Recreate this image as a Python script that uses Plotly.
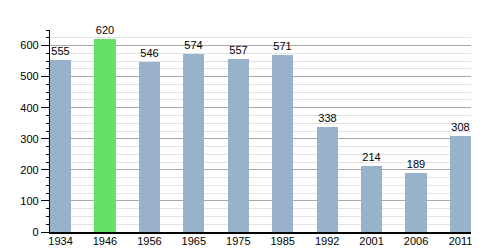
import plotly.graph_objects as go

years = ["1934", "1946", "1956", "1965", "1975", "1985", "1992", "2001", "2006", "2011"]
population = [555, 620, 546, 574, 557, 571, 338, 214, 189, 308]
highlight_year = "1946"

blue = "#99b2cc"
green = "#66e066"
colors = [green if y == highlight_year else blue for y in years]

fig = go.Figure(go.Bar(
    x=list(range(len(years))),
    y=population,
    marker=dict(color=colors, line=dict(width=0)),
    width=0.475,
    text=[str(v) for v in population],
    textposition="outside",
    textfont=dict(family="Liberation Sans, Arial, sans-serif", size=11, color="#000"),
    cliponaxis=False,
))

fig.update_layout(
    width=500, height=250,
    margin=dict(l=50, r=29, t=30, b=18),
    paper_bgcolor="white", plot_bgcolor="white",
    showlegend=False,
    font=dict(family="Liberation Sans, Arial, sans-serif", size=11, color="#000"),
    bargap=0,
)
fig.update_xaxes(
    range=[-0.237, len(years) - 1 + 0.237],
    tickmode="array", tickvals=list(range(len(years))), ticktext=years,
    showgrid=False, zeroline=False,
    showline=True, linecolor="black", linewidth=1.5,
    ticks="", ticklen=0, automargin=False,
    ticklabelstandoff=-2,
)
fig.update_yaxes(
    range=[0, 650], dtick=100, tick0=0,
    showgrid=True, gridcolor="#a8a8a8", gridwidth=1,
    zeroline=False,
    showline=True, linecolor="black", linewidth=1.2,
    ticks="outside", ticklen=8, tickcolor="black", tickwidth=1,
    automargin=False,
    minor=dict(dtick=25, showgrid=True, gridcolor="#e2e2e2", gridwidth=1,
               ticks="outside", ticklen=3, tickcolor="black", tickwidth=1),
)

fig.write_html("out.html")
